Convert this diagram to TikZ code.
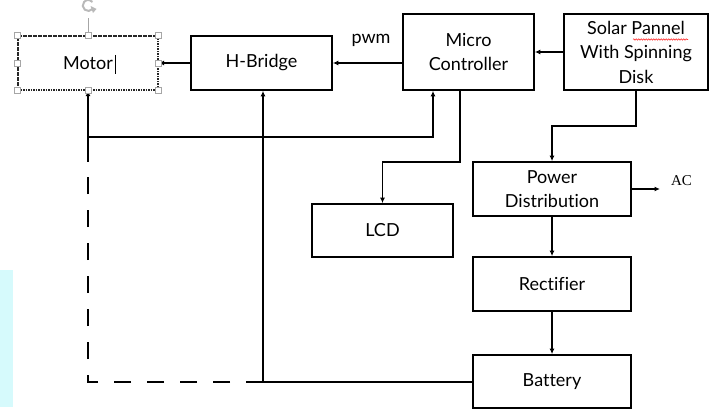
\documentclass[tikz,border=0pt]{standalone}
\usepackage{fontspec}
\setmainfont{Lato}[Ligatures=NoCommon]
\newfontfamily\acfont{Liberation Serif}
\usetikzlibrary{arrows.meta,decorations.pathmorphing}
\definecolor{paleCyan}{HTML}{D6FAFC}
\begin{document}
\begin{tikzpicture}[x=1pt,y=-1pt,
  blk/.style={draw,line width=1.7pt,align=center,inner sep=0pt,font=\fontsize{18}{24.5}\selectfont},
  conn/.style={line width=1.7pt,-{Latex[length=5.5pt,width=5pt]}},
  wire/.style={line width=1.7pt},
  dashwire/.style={line width=1.7pt,dash pattern=on 17pt off 16pt},
  handle/.style={draw=gray!70,fill=white,line width=0.6pt,minimum size=6pt,inner sep=0pt},
  lbl/.style={font=\fontsize{18}{20}\selectfont,inner sep=0pt}]
\useasboundingbox (0,0) rectangle (715,409);
\fill[paleCyan] (0,270) rectangle (13,407);

% blocks
\node[blk,draw=black!85,line width=1.3pt,dash pattern=on 1.6pt off 0.9pt,minimum width=140pt,minimum height=54pt] (motor) at (88,63) {Motor};
\node[blk,minimum width=141pt,minimum height=54pt] (hb) at (261.5,63) {H-Bridge};
\node[blk,minimum width=131pt,minimum height=76pt] (mc) at (468.5,52) {Micro\\Controller};
\node[blk,minimum width=144pt,minimum height=76pt] (sp) at (636,52) {Solar Pannel\\With Spinning\\Disk};
\node[blk,minimum width=141pt,minimum height=53pt] (lcd) at (382.5,230.5) {LCD};
\node[blk,minimum width=158pt,minimum height=54pt] (pd) at (552,189) {Power\\Distribution};
\node[blk,minimum width=158pt,minimum height=54pt] (rect) at (552,284) {Rectifier};
\node[blk,minimum width=158pt,minimum height=53pt] (bat) at (552,381.5) {Battery};

\node[lbl] (pwm) at (371,40) {pwm};
\node[font=\acfont\fontsize{15}{15}\selectfont,inner sep=0pt] (ac) at (681.5,181) {AC};

% coordinates
\coordinate (j1) at (88,137);
\coordinate (m1) at (433,137);
\coordinate (d1) at (88,162);
\coordinate (dc) at (88,382);
\coordinate (b1) at (263,382);
\coordinate (l1) at (460,162);
\coordinate (s1) at (636,126);
\coordinate (acend) at (660,189);

% connectors
\draw[conn] (hb.west) -- (motor.east);
\draw[conn] (mc.west |- hb.east) -- (hb.east);
\draw[conn] (sp.west) -- (mc.east);
\draw[conn] (j1) -- (motor.south);
\draw[conn] (j1) -- (m1) -- (m1 |- mc.south);
\draw[wire] (j1) -- (d1);
\draw[dashwire] (b1) -- (dc) -- (d1);
\draw[wire] (bat.west |- b1) -- (b1);
\draw[conn] (b1) -- (b1 |- hb.south);
\draw[conn] (mc.south -| l1) -- (l1) -- (l1 -| lcd.north) -- (lcd.north);
\draw[conn] (sp.south) -- (s1) -- (s1 -| pd.north) -- (pd.north);
\draw[conn] (pd.south) -- (rect.north);
\draw[conn] (rect.south) -- (bat.north);
\draw[conn] (pd.east) -- (acend);

% selection handles of the Motor box
\draw[gray!70,line width=0.6pt] (motor.north) -- (88,18);
\foreach \a [count=\i] in {north west,north,north east,west,east,south west,south,south east}
  \node[handle] (h\i) at (motor.\a) {};
\draw[gray!55,line width=2pt] (92.5,9) arc[start angle=-40,end angle=-320,radius=5.5pt];
\fill[gray!55] (90.5,6) -- (96.5,9) -- (93,13) -- cycle;
% text cursor
\draw[line width=0.6pt] (115.5,55) -- (115.5,74);
% spell-check underline
\draw[red!80,line width=0.6pt,decorate,decoration={snake,amplitude=0.7pt,segment length=2.5pt}] (633,39.5) -- (688,39.5);
\end{tikzpicture}
\end{document}
